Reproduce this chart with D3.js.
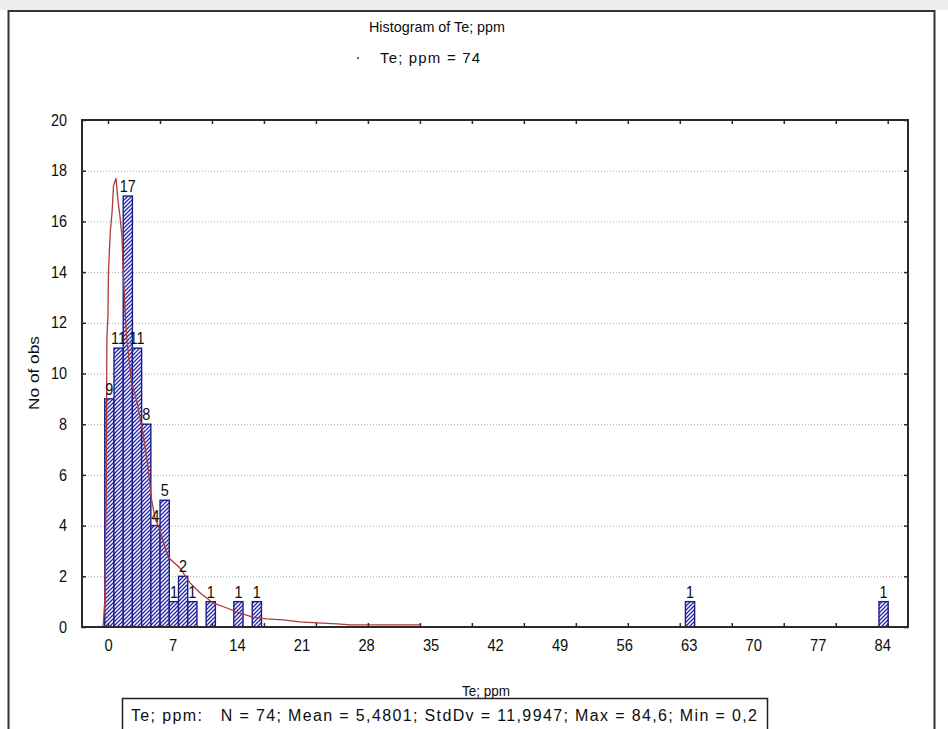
<!DOCTYPE html>
<html>
<head>
<meta charset="utf-8">
<script src="https://cdn.jsdelivr.net/npm/d3@7"></script>
<style>
  html, body { margin: 0; padding: 0; background: #ffffff; }
  svg { display: block; }
  text { font-family: "Liberation Sans", Arial, sans-serif; fill: #0d0d0d; }
</style>
</head>
<body>
<svg id="chart" width="948" height="729"></svg>
<script>
// Histogram of Te (ppm), 1-unit bins; only non-empty bins are listed
const binStart = [-0.35, 0.65, 1.65, 2.65, 3.65, 4.65, 5.65, 6.65, 7.65, 8.65, 10.65, 13.65, 15.65, 62.65, 83.65];
const binCount = [9, 11, 17, 11, 8, 4, 5, 1, 2, 1, 1, 1, 1, 1, 1];
const binWidth = 1;

// Fitted density curve (expected counts per bin)
const curveX = [-0.54, -0.35, -0.2, -0.12, 0.0, 0.05, 0.25, 0.45, 0.6, 0.87, 1.09, 1.3, 1.52, 1.63, 1.85, 2.03,
                2.57, 3.1, 3.8, 4.34, 4.74, 5.1, 5.64, 6.5, 7.8, 8.9, 10.0, 11.4, 12.9, 14.0, 15.7, 17.2,
                19.0, 20.8, 22.7, 24.9, 26.3, 33.9];
const curveY = [0, 1.0, 5.0, 11.4, 12.3, 14.0, 15.6, 16.4, 17.4, 17.7, 16.8, 16.2, 15.4, 14.2, 12.5, 11.4,
                9.6, 8.95, 7.65, 6.3, 5.0, 4.3, 3.83, 2.76, 2.33, 1.74, 1.34, 0.95, 0.75, 0.59, 0.39, 0.32,
                0.28, 0.2, 0.16, 0.12, 0.08, 0.08];

// Axis labels
const xTickLabels = [0, 7, 14, 21, 28, 35, 42, 49, 56, 63, 70, 77, 84];
const yTickLabels = [0, 2, 4, 6, 8, 10, 12, 14, 16, 18, 20];
const xTickMarkCount = 16;          // minor marks spread from 0 to the maximum
const dataMax = 84.6;

const titleText = "Histogram of Te; ppm";
const legendText = "Te; ppm = 74";
const xTitle = "Te; ppm";
const yTitle = "No of obs";
const statsText = "Te; ppm:   N = 74; Mean = 5,4801; StdDv = 11,9947; Max = 84,6; Min = 0,2";

const svg = d3.select("#chart");

// plot frame
const plot = { left: 82, right: 908, top: 120, bottom: 627 };
const x = d3.scaleLinear().domain([-2.82, 86.8]).range([plot.left, plot.right]);
const y = d3.scaleLinear().domain([0, 20]).range([plot.bottom, plot.top]);

// narrow digits: squeeze glyphs horizontally
function squeeze(sel, k) {
  sel.each(function () {
    const w = this.getComputedTextLength();
    d3.select(this).attr("textLength", w * k).attr("lengthAdjust", "spacingAndGlyphs");
  });
}

// page frame
svg.append("rect").attr("x", 0).attr("y", 0).attr("width", 948).attr("height", 10).attr("fill", "#eeeeee");
svg.append("path")
  .attr("d", "M8.5,729 V11 H934.5 V729")
  .attr("fill", "none").attr("stroke", "#333").attr("stroke-width", 2);

// hatch pattern for bars
const defs = svg.append("defs");
const pat = defs.append("pattern")
  .attr("id", "hatch").attr("patternUnits", "userSpaceOnUse")
  .attr("width", 4).attr("height", 4);
pat.append("rect").attr("width", 4).attr("height", 4).attr("fill", "#ffffff");
pat.append("path")
  .attr("d", "M-1,1 L1,-1 M0,4 L4,0 M3,5 L5,3")
  .attr("stroke", "#2626b0").attr("stroke-width", 1.3);

// horizontal dotted grid
svg.append("g")
  .selectAll("line")
  .data(yTickLabels.filter(v => v > 0 && v < 20))
  .join("line")
  .attr("x1", plot.left + 3).attr("x2", plot.right - 3)
  .attr("y1", d => y(d) + 0.5).attr("y2", d => y(d) + 0.5)
  .attr("stroke", "#a8a8a8").attr("stroke-width", 1)
  .attr("stroke-dasharray", "1,2");

// bars
const bars = binStart.map((s, i) => ({ lo: s, hi: s + binWidth, n: binCount[i] }));
svg.append("g")
  .selectAll("rect")
  .data(bars)
  .join("rect")
  .attr("x", d => x(d.lo))
  .attr("y", d => y(d.n))
  .attr("width", d => x(d.hi) - x(d.lo))
  .attr("height", d => y(0) - y(d.n))
  .attr("fill", "url(#hatch)")
  .attr("stroke", "#1c1c8a").attr("stroke-width", 1.4);

// fitted curve
const curve = curveX.map((v, i) => [v, curveY[i]]);
svg.append("path")
  .datum(curve)
  .attr("d", d3.line().x(d => x(d[0])).y(d => y(d[1])))
  .attr("fill", "none").attr("stroke", "#b03a3a").attr("stroke-width", 1.3);

// bar count labels
svg.append("g")
  .selectAll("text")
  .data(bars)
  .join("text")
  .attr("x", d => (x(d.lo) + x(d.hi)) / 2)
  .attr("y", d => y(d.n) - 4)
  .attr("text-anchor", "middle")
  .attr("font-size", 16)
  .text(d => d.n)
  .call(squeeze, 0.9);

// axes frame lines
svg.append("rect")
  .attr("x", plot.left).attr("y", plot.top)
  .attr("width", plot.right - plot.left).attr("height", plot.bottom - plot.top)
  .attr("fill", "none").attr("stroke", "#2a2a2a").attr("stroke-width", 2);

// y axes (left labels, inward ticks on both sides)
const yLeft = d3.axisLeft(y).tickValues(yTickLabels).tickSize(-4).tickPadding(15).tickFormat(d3.format("d"));
const gyl = svg.append("g").attr("transform", `translate(${plot.left},0)`).call(yLeft);
gyl.select(".domain").remove();
gyl.selectAll(".tick line").attr("stroke", "#2a2a2a").attr("stroke-width", 1.5);
gyl.selectAll(".tick text").attr("font-size", 16).attr("font-family", null).attr("fill", null).call(squeeze, 0.9);

const yRight = d3.axisRight(y).tickValues(yTickLabels).tickSize(-4).tickFormat("");
const gyr = svg.append("g").attr("transform", `translate(${plot.right},0)`).call(yRight);
gyr.select(".domain").remove();
gyr.selectAll(".tick line").attr("stroke", "#2a2a2a").attr("stroke-width", 1.5);

// x axis labels
const xBottomLabels = d3.axisBottom(x).tickValues(xTickLabels).tickSize(0).tickPadding(13).tickFormat(d3.format("d"));
const gxl = svg.append("g").attr("transform", `translate(0,${plot.bottom})`).call(xBottomLabels);
gxl.select(".domain").remove();
gxl.selectAll(".tick text").attr("font-size", 16).attr("font-family", null).attr("fill", null).call(squeeze, 0.92);

// x tick marks (top and bottom, inward)
const xMarks = d3.range(xTickMarkCount).map(i => i * dataMax / (xTickMarkCount - 1));
const gxb = svg.append("g").attr("transform", `translate(0,${plot.bottom})`)
  .call(d3.axisBottom(x).tickValues(xMarks).tickSize(-4).tickFormat(""));
gxb.select(".domain").remove();
gxb.selectAll(".tick line").attr("stroke", "#2a2a2a").attr("stroke-width", 1.5);
const gxt = svg.append("g").attr("transform", `translate(0,${plot.top})`)
  .call(d3.axisTop(x).tickValues(xMarks).tickSize(-4).tickFormat(""));
gxt.select(".domain").remove();
gxt.selectAll(".tick line").attr("stroke", "#2a2a2a").attr("stroke-width", 1.5);

// titles
svg.append("text")
  .attr("x", 369).attr("y", 32)
  .attr("font-size", 15).attr("textLength", 136).attr("lengthAdjust", "spacingAndGlyphs")
  .text(titleText);

svg.append("circle").attr("cx", 358).attr("cy", 58).attr("r", 1).attr("fill", "#333");
svg.append("text")
  .attr("x", 380).attr("y", 63)
  .attr("font-size", 15).attr("textLength", 100).attr("lengthAdjust", "spacing")
  .text(legendText);

svg.append("text")
  .attr("x", 462).attr("y", 696)
  .attr("font-size", 15).attr("textLength", 48).attr("lengthAdjust", "spacingAndGlyphs")
  .text(xTitle);

svg.append("text")
  .attr("transform", "translate(39,410) rotate(-90)")
  .attr("font-size", 15).attr("textLength", 74).attr("lengthAdjust", "spacingAndGlyphs")
  .text(yTitle);

// summary statistics box
svg.append("path")
  .attr("d", "M122.5,729 V698.5 H767.5 V729")
  .attr("fill", "#ffffff").attr("stroke", "#222").attr("stroke-width", 1.5);
svg.append("text")
  .attr("x", 131).attr("y", 721)
  .attr("font-size", 16)
  .style("white-space", "pre")
  .attr("textLength", 626).attr("lengthAdjust", "spacing")
  .text(statsText);
</script>
</body>
</html>
